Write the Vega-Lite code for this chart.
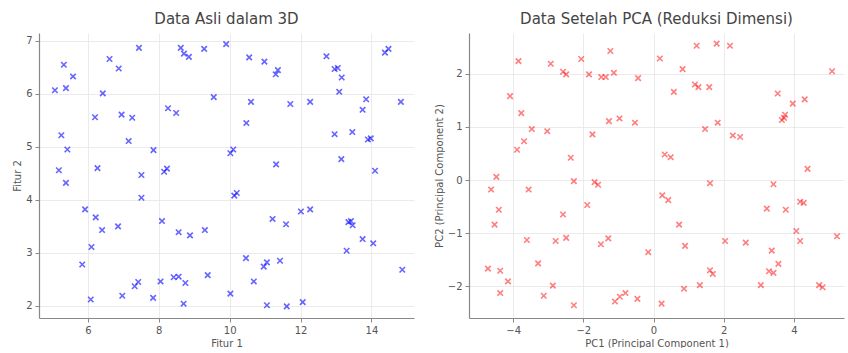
{
  "$schema": "https://vega.github.io/schema/vega-lite/v6.json",
  "background": "white",
  "padding": {"left": 12, "right": 5, "top": 12, "bottom": 0},
  "spacing": 20,
  "datasets": {
    "asli": [
      {"f1": 7.44, "f2": 6.87}, {"f1": 5.32, "f2": 6.55}, {"f1": 5.58, "f2": 6.33}, {"f1": 5.07, "f2": 6.07},
      {"f1": 5.38, "f2": 6.11}, {"f1": 6.42, "f2": 6.01}, {"f1": 6.61, "f2": 6.66}, {"f1": 6.87, "f2": 6.48},
      {"f1": 8.62, "f2": 6.87}, {"f1": 8.71, "f2": 6.76}, {"f1": 8.85, "f2": 6.70}, {"f1": 9.28, "f2": 6.85},
      {"f1": 9.55, "f2": 5.94}, {"f1": 6.2, "f2": 5.56}, {"f1": 6.95, "f2": 5.61}, {"f1": 7.25, "f2": 5.55},
      {"f1": 8.26, "f2": 5.73}, {"f1": 8.49, "f2": 5.64}, {"f1": 5.25, "f2": 5.22}, {"f1": 5.42, "f2": 4.95},
      {"f1": 7.15, "f2": 5.11}, {"f1": 7.85, "f2": 4.94}, {"f1": 9.9, "f2": 6.94}, {"f1": 10.55, "f2": 6.69},
      {"f1": 10.98, "f2": 6.61}, {"f1": 11.3, "f2": 6.37}, {"f1": 11.36, "f2": 6.45}, {"f1": 12.73, "f2": 6.71},
      {"f1": 12.96, "f2": 6.47}, {"f1": 13.05, "f2": 6.49}, {"f1": 13.16, "f2": 6.31}, {"f1": 14.38, "f2": 6.78},
      {"f1": 14.48, "f2": 6.85}, {"f1": 10.6, "f2": 5.85}, {"f1": 11.71, "f2": 5.81}, {"f1": 12.27, "f2": 5.85},
      {"f1": 13.09, "f2": 6.04}, {"f1": 13.85, "f2": 5.9}, {"f1": 14.83, "f2": 5.85}, {"f1": 13.75, "f2": 5.70},
      {"f1": 10.47, "f2": 5.45}, {"f1": 12.96, "f2": 5.24}, {"f1": 13.46, "f2": 5.28}, {"f1": 13.9, "f2": 5.14},
      {"f1": 13.98, "f2": 5.16}, {"f1": 10.02, "f2": 4.88}, {"f1": 10.1, "f2": 4.95}, {"f1": 11.31, "f2": 4.67},
      {"f1": 13.15, "f2": 4.77}, {"f1": 14.1, "f2": 4.55}, {"f1": 5.18, "f2": 4.56}, {"f1": 5.38, "f2": 4.32},
      {"f1": 6.27, "f2": 4.60}, {"f1": 7.51, "f2": 4.47}, {"f1": 8.15, "f2": 4.53}, {"f1": 8.23, "f2": 4.59},
      {"f1": 7.51, "f2": 4.04}, {"f1": 5.92, "f2": 3.82}, {"f1": 6.22, "f2": 3.67}, {"f1": 6.4, "f2": 3.43},
      {"f1": 6.85, "f2": 3.5}, {"f1": 6.1, "f2": 3.11}, {"f1": 8.09, "f2": 3.6}, {"f1": 8.56, "f2": 3.39},
      {"f1": 8.88, "f2": 3.33}, {"f1": 9.3, "f2": 3.43}, {"f1": 5.84, "f2": 2.78}, {"f1": 6.08, "f2": 2.12},
      {"f1": 6.97, "f2": 2.19}, {"f1": 7.32, "f2": 2.37}, {"f1": 7.42, "f2": 2.45}, {"f1": 7.84, "f2": 2.15},
      {"f1": 8.05, "f2": 2.46}, {"f1": 8.42, "f2": 2.54}, {"f1": 8.56, "f2": 2.55}, {"f1": 8.75, "f2": 2.43},
      {"f1": 8.7, "f2": 2.04}, {"f1": 9.38, "f2": 2.58}, {"f1": 10.13, "f2": 4.08}, {"f1": 10.2, "f2": 4.13},
      {"f1": 11.21, "f2": 3.64}, {"f1": 11.59, "f2": 3.54}, {"f1": 12.01, "f2": 3.78}, {"f1": 12.27, "f2": 3.82},
      {"f1": 13.35, "f2": 3.58}, {"f1": 13.47, "f2": 3.52}, {"f1": 13.42, "f2": 3.6}, {"f1": 13.75, "f2": 3.26},
      {"f1": 14.05, "f2": 3.18}, {"f1": 13.3, "f2": 3.04}, {"f1": 14.87, "f2": 2.68}, {"f1": 10.46, "f2": 2.9},
      {"f1": 10.96, "f2": 2.74}, {"f1": 11.05, "f2": 2.82}, {"f1": 11.42, "f2": 2.85}, {"f1": 10.68, "f2": 2.46},
      {"f1": 10.02, "f2": 2.23}, {"f1": 11.05, "f2": 2.01}, {"f1": 11.61, "f2": 1.99}, {"f1": 12.06, "f2": 2.07}
    ],
    "pca": [
      {"pc1": -3.85, "pc2": 2.24}, {"pc1": -2.93, "pc2": 2.19}, {"pc1": -2.58, "pc2": 2.04}, {"pc1": -2.49, "pc2": 1.99},
      {"pc1": -2.06, "pc2": 2.28}, {"pc1": -1.84, "pc2": 1.99}, {"pc1": -1.49, "pc2": 1.94}, {"pc1": -1.36, "pc2": 1.94},
      {"pc1": -1.13, "pc2": 2.02}, {"pc1": -1.23, "pc2": 2.43}, {"pc1": -0.44, "pc2": 1.92}, {"pc1": -4.09, "pc2": 1.58},
      {"pc1": -3.77, "pc2": 1.26}, {"pc1": -3.47, "pc2": 0.96}, {"pc1": -3.03, "pc2": 0.92}, {"pc1": -3.69, "pc2": 0.73},
      {"pc1": -3.89, "pc2": 0.57}, {"pc1": -2.36, "pc2": 0.42}, {"pc1": -1.74, "pc2": 0.86}, {"pc1": -1.27, "pc2": 1.11},
      {"pc1": -0.97, "pc2": 1.16}, {"pc1": -0.53, "pc2": 1.08}, {"pc1": 0.18, "pc2": 2.29}, {"pc1": 1.23, "pc2": 2.53},
      {"pc1": 1.8, "pc2": 2.57}, {"pc1": 2.18, "pc2": 2.53}, {"pc1": 0.83, "pc2": 2.09}, {"pc1": 1.18, "pc2": 1.80},
      {"pc1": 1.28, "pc2": 1.75}, {"pc1": 1.59, "pc2": 1.75}, {"pc1": 0.58, "pc2": 1.66}, {"pc1": 5.09, "pc2": 2.05},
      {"pc1": 3.54, "pc2": 1.63}, {"pc1": 3.97, "pc2": 1.44}, {"pc1": 4.31, "pc2": 1.52}, {"pc1": 3.75, "pc2": 1.23},
      {"pc1": 3.66, "pc2": 1.13}, {"pc1": 3.72, "pc2": 1.17}, {"pc1": 1.83, "pc2": 1.08}, {"pc1": 1.47, "pc2": 0.96},
      {"pc1": 2.26, "pc2": 0.84}, {"pc1": 2.47, "pc2": 0.81}, {"pc1": 0.32, "pc2": 0.48}, {"pc1": 0.49, "pc2": 0.43},
      {"pc1": 4.39, "pc2": 0.21}, {"pc1": -4.48, "pc2": 0.06}, {"pc1": -4.63, "pc2": -0.18}, {"pc1": -4.41, "pc2": -0.56},
      {"pc1": -4.53, "pc2": -0.84}, {"pc1": -3.56, "pc2": -0.18}, {"pc1": -2.27, "pc2": -0.02}, {"pc1": -1.68, "pc2": -0.04},
      {"pc1": -1.58, "pc2": -0.09}, {"pc1": -1.89, "pc2": -0.47}, {"pc1": -2.58, "pc2": -0.65}, {"pc1": -3.61, "pc2": -1.13},
      {"pc1": -2.79, "pc2": -1.15}, {"pc1": -2.49, "pc2": -1.09}, {"pc1": -1.5, "pc2": -1.21}, {"pc1": -1.29, "pc2": -1.1},
      {"pc1": -0.15, "pc2": -1.36}, {"pc1": -4.72, "pc2": -1.67}, {"pc1": -4.37, "pc2": -1.71}, {"pc1": -4.15, "pc2": -1.91},
      {"pc1": -4.37, "pc2": -2.13}, {"pc1": -3.29, "pc2": -1.57}, {"pc1": -2.87, "pc2": -1.99}, {"pc1": -3.13, "pc2": -2.18},
      {"pc1": -2.27, "pc2": -2.36}, {"pc1": -1.1, "pc2": -2.29}, {"pc1": -0.96, "pc2": -2.2}, {"pc1": -0.8, "pc2": -2.13},
      {"pc1": -0.46, "pc2": -2.24}, {"pc1": 1.61, "pc2": -0.06}, {"pc1": 3.42, "pc2": -0.08}, {"pc1": 0.25, "pc2": -0.29},
      {"pc1": 0.42, "pc2": -0.38}, {"pc1": 4.18, "pc2": -0.41}, {"pc1": 4.28, "pc2": -0.43}, {"pc1": 3.23, "pc2": -0.54},
      {"pc1": 3.77, "pc2": -0.56}, {"pc1": 0.73, "pc2": -0.84}, {"pc1": 4.07, "pc2": -0.96}, {"pc1": 4.18, "pc2": -1.15},
      {"pc1": 5.23, "pc2": -1.06}, {"pc1": 2.04, "pc2": -1.15}, {"pc1": 2.63, "pc2": -1.18}, {"pc1": 0.9, "pc2": -1.24},
      {"pc1": 3.37, "pc2": -1.33}, {"pc1": 1.61, "pc2": -1.70}, {"pc1": 1.69, "pc2": -1.77}, {"pc1": 3.56, "pc2": -1.58},
      {"pc1": 3.29, "pc2": -1.72}, {"pc1": 3.42, "pc2": -1.75}, {"pc1": 0.87, "pc2": -2.05}, {"pc1": 1.32, "pc2": -1.98},
      {"pc1": 3.06, "pc2": -1.98}, {"pc1": 4.72, "pc2": -1.98}, {"pc1": 4.82, "pc2": -2.02}, {"pc1": 0.23, "pc2": -2.33}
    ]
  },
  "hconcat": [
    {
      "width": 375,
      "height": 285,
      "title": {"text": "Data Asli dalam 3D"},
      "data": {"name": "asli"},
      "mark": {"type": "point", "shape": "M-1,-1L1,1M1,-1L-1,1", "filled": false, "color": "#0000ff", "opacity": 0.6, "size": 30, "strokeWidth": 1.6},
      "encoding": {
        "x": {"field": "f1", "type": "quantitative", "title": "Fitur 1",
              "scale": {"domain": [4.62, 15.2], "nice": false, "zero": false},
              "axis": {"values": [6, 8, 10, 12, 14]}},
        "y": {"field": "f2", "type": "quantitative", "title": "Fitur 2",
              "scale": {"domain": [1.77, 7.15], "nice": false, "zero": false},
              "axis": {"values": [2, 3, 4, 5, 6, 7]}}
      }
    },
    {
      "width": 375,
      "height": 285,
      "title": {"text": "Data Setelah PCA (Reduksi Dimensi)"},
      "data": {"name": "pca"},
      "mark": {"type": "point", "shape": "M-1,-1L1,1M1,-1L-1,1", "filled": false, "color": "#ff0000", "opacity": 0.5, "size": 30, "strokeWidth": 1.6},
      "encoding": {
        "x": {"field": "pc1", "type": "quantitative", "title": "PC1 (Principal Component 1)",
              "scale": {"domain": [-5.26, 5.43], "nice": false, "zero": false},
              "axis": {"values": [-4, -2, 0, 2, 4]}},
        "y": {"field": "pc2", "type": "quantitative", "title": "PC2 (Principal Component 2)",
              "scale": {"domain": [-2.6, 2.77], "nice": false, "zero": false},
              "axis": {"values": [-2, -1, 0, 1, 2]}}
      }
    }
  ],
  "config": {
    "font": "DejaVu Sans",
    "view": {"stroke": null},
    "title": {"fontSize": 15, "fontWeight": "normal", "color": "#444444", "offset": 6},
    "axis": {
      "grid": true,
      "gridColor": "#e6e6e6",
      "gridWidth": 0.8,
      "domainColor": "#888888",
      "domainWidth": 1.2,
      "tickColor": "#888888",
      "tickSize": 4,
      "labelFontSize": 10,
      "labelColor": "#555555",
      "titleFontSize": 10,
      "titleFontWeight": "normal",
      "titleColor": "#555555",
      "labelPadding": 3,
      "titlePadding": 3
    }
  }
}
